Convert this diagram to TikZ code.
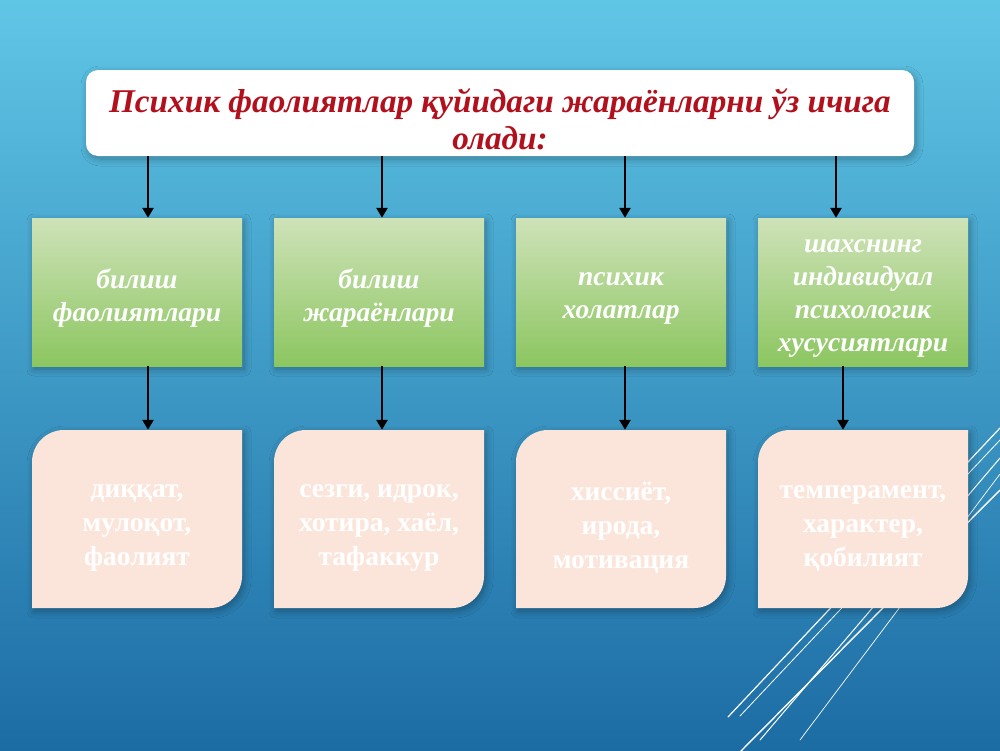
\documentclass[tikz,border=0pt]{standalone}
\usepackage{fontspec}
\setmainfont{Liberation Serif}
\usetikzlibrary{arrows.meta,shadows.blur,calc}
\definecolor{bgtop}{RGB}{96,198,230}
\definecolor{bgmid}{RGB}{56,156,204}
\definecolor{bgbot}{RGB}{28,108,164}
\definecolor{titlered}{RGB}{178,16,28}
\definecolor{greentop}{RGB}{206,226,184}
\definecolor{greenbot}{RGB}{140,198,96}
\definecolor{pinkfill}{RGB}{251,229,218}
\begin{document}
\begin{tikzpicture}[x=1pt,y=-1pt,
  softshadow/.style={blur shadow={shadow xshift=2pt, shadow yshift=-3pt, shadow opacity=30, shadow blur radius=7pt, shadow blur steps=10}},
  titlebox/.style={rectangle, rounded corners=12pt, fill=white, minimum width=828pt, minimum height=86pt, softshadow},
  titletext/.style={text=titlered, align=center, font=\fontsize{33.2}{37}\selectfont\bfseries\itshape, inner sep=0pt},
  greenbox/.style={rectangle, top color=greentop, bottom color=greenbot, minimum width=210pt, minimum height=148pt, softshadow},
  greentext/.style={text=white, align=center, font=\fontsize{27.5}{33}\selectfont\bfseries\itshape, inner sep=0pt},
  pinkbox/.style={rectangle, minimum width=210pt, minimum height=178pt},
  pinktext/.style={text=white, align=center, font=\fontsize{27.5}{34}\selectfont\bfseries, inner sep=0pt},
  pinkshape/.style={fill=pinkfill, softshadow},
  arr/.style={-{Triangle[length=10pt,width=11pt]}, line width=2.8pt, black},
  deco/.style={white, line cap=round}
]
\useasboundingbox (0,0) rectangle (1000,750);
\shade[top color=bgtop, middle color=bgmid, bottom color=bgbot] (0,0) rectangle (1000,750);

% decorative lines
\draw[deco, line width=1.2pt] (728,717) -- (1000,428);
\draw[deco, line width=0.8pt] (740,716) -- (1000,440);
\draw[deco, line width=1pt] (760,740) -- (1000,458);
\draw[deco, line width=1.4pt] (740,752) -- (1000,490);
\draw[deco, line width=0.7pt] (800,740) -- (1000,474);

% title
\node[titlebox] (title) at (500,113) {};
\node[titletext] (titlet) at (500,119) {Психик фаолиятлар қуйидаги жараёнларни ўз ичига\\олади:};

% green boxes
\node[greenbox] (g1) at (137,292) {};
\node[greenbox] (g2) at (379,292) {};
\node[greenbox] (g3) at (621,292) {};
\node[greenbox] (g4) at (863,292) {};
\node[greentext] (g1t) at (137,298) {билиш\\фаолиятлари};
\node[greentext] (g2t) at (379,298) {билиш\\жараёнлари};
\node[greentext] (g3t) at (621,298) {психик\\холатлар};
\node[greentext] (g4t) at (863,298) {шахснинг\\индивидуал\\психологик\\хусусиятлари};

% pink shapes
\foreach \cx in {137,379,621,863}{
  \fill[pinkshape] (\cx-105,608) -- (\cx-105,462) arc[start angle=180,end angle=270,radius=32] -- (\cx+105,430) -- (\cx+105,576) arc[start angle=0,end angle=90,radius=32] -- cycle;
}
\node[pinkbox] (p1) at (137,519) {};
\node[pinkbox] (p2) at (379,519) {};
\node[pinkbox] (p3) at (621,519) {};
\node[pinkbox] (p4) at (863,519) {};
\node[pinktext] (p1t) at (137,528) {диққат,\\мулоқот,\\фаолият};
\node[pinktext] (p2t) at (379,528) {сезги, идрок,\\хотира, хаёл,\\тафаккур};
\node[pinktext] (p3t) at (621,528) {хиссиёт,\\ирода,\\мотивация};
\node[pinktext] (p4t) at (863,528) {темперамент,\\характер,\\қобилият};

% arrows
\draw[arr] ([xshift=11pt]g1.north |- title.south) -- ([xshift=11pt]g1.north);
\draw[arr] ([xshift=3pt]g2.north |- title.south) -- ([xshift=3pt]g2.north);
\draw[arr] ([xshift=4pt]g3.north |- title.south) -- ([xshift=4pt]g3.north);
\draw[arr] ([xshift=-27pt]g4.north |- title.south) -- ([xshift=-27pt]g4.north);
\draw[arr] ([xshift=11pt]g1.south) -- ([xshift=11pt]p1.north);
\draw[arr] ([xshift=3pt]g2.south) -- ([xshift=3pt]p2.north);
\draw[arr] ([xshift=4pt]g3.south) -- ([xshift=4pt]p3.north);
\draw[arr] ([xshift=-20pt]g4.south) -- ([xshift=-20pt]p4.north);
\end{tikzpicture}
\end{document}
